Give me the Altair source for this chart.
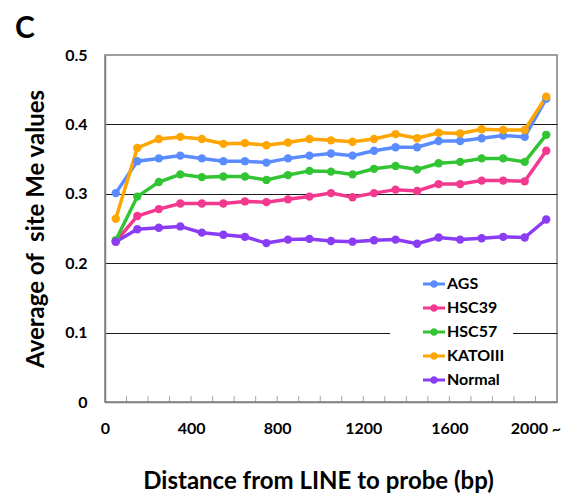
import altair as alt
import pandas as pd

distance = [50, 150, 250, 350, 450, 550, 650, 750, 850, 950, 1050,
            1150, 1250, 1350, 1450, 1550, 1650, 1750, 1850, 1950, 2050]
series_names = ["AGS", "HSC39", "HSC57", "KATOIII", "Normal"]
ags = [0.301, 0.347, 0.351, 0.355, 0.351, 0.347, 0.347, 0.345, 0.351, 0.355, 0.358,
       0.355, 0.362, 0.367, 0.367, 0.376, 0.376, 0.380, 0.384, 0.382, 0.437]
hsc39 = [0.231, 0.268, 0.278, 0.286, 0.286, 0.286, 0.289, 0.288, 0.292, 0.296, 0.301,
         0.295, 0.301, 0.306, 0.304, 0.314, 0.314, 0.319, 0.319, 0.318, 0.362]
hsc57 = [0.233, 0.296, 0.317, 0.328, 0.324, 0.325, 0.325, 0.320, 0.327, 0.333, 0.332,
         0.328, 0.336, 0.340, 0.335, 0.344, 0.346, 0.351, 0.351, 0.346, 0.385]
katoiii = [0.264, 0.366, 0.379, 0.382, 0.379, 0.372, 0.373, 0.370, 0.374, 0.379, 0.377,
           0.375, 0.379, 0.386, 0.380, 0.388, 0.387, 0.393, 0.392, 0.392, 0.440]
normal = [0.231, 0.249, 0.251, 0.253, 0.244, 0.241, 0.238, 0.229, 0.234, 0.235, 0.232,
          0.231, 0.233, 0.234, 0.228, 0.237, 0.234, 0.236, 0.238, 0.237, 0.263]
colors = ["#5B8CFF", "#F2398F", "#33C433", "#FFA500", "#8A3CF5"]

x_label_values = [0, 400, 800, 1200, 1600, 2000]
minor_tick_values = [100, 200, 300, 400, 500, 600, 700, 800, 900, 1000,
                     1100, 1200, 1300, 1400, 1500, 1600, 1700, 1800, 1900, 2000]
y_values = [0, 0.1, 0.2, 0.3, 0.4, 0.5]

rows = []
for name, vals in zip(series_names, [ags, hsc39, hsc57, katoiii, normal]):
    for d, v in zip(distance, vals):
        rows.append({"distance": d, "series": name, "line_series": name, "value": v})
df = pd.DataFrame(rows)
ticks_df = pd.DataFrame({"distance": minor_tick_values})

FONT = "Lato"
x_scale = alt.Scale(domain=[0, 2100], nice=False, zero=False)
y_scale = alt.Scale(domain=[0, 0.5], nice=False)

x_enc = alt.X(
    "distance:Q", scale=x_scale,
    axis=alt.Axis(
        values=x_label_values,
        labelExpr="datum.value == 2000 ? '2000 ~' : format(datum.value, 'd')",
        title="Distance from LINE to probe (bp)",
        grid=False, ticks=False,
        labelFont=FONT, labelFontSize=16, labelFontWeight="bold", labelColor="black",
        labelPadding=18, labelFlush=False,
        titleFont=FONT, titleFontSize=24, titleFontWeight="bold", titleColor="black",
        titlePadding=33, titleX=213, titleAlign="center",
        domainColor="#808080", domainWidth=1.5,
    ),
)
y_enc = alt.Y(
    "value:Q", scale=y_scale,
    axis=alt.Axis(
        values=y_values,
        labelExpr="datum.value == 0 ? '0' : format(datum.value, '.1f')",
        title="Average of \u00a0site Me values",
        grid=True,
        gridColor={"condition": {"test": "datum.value >= 0.5 || datum.value <= 0",
                                 "value": "transparent"},
                   "value": "#1a1a1a"},
        gridWidth=1,
        ticks=False,
        labelFont=FONT, labelFontSize=16, labelFontWeight="bold", labelColor="black",
        labelPadding=18,
        titleFont=FONT, titleFontSize=24, titleFontWeight="bold", titleColor="black",
        titlePadding=16,
        domainColor="#808080", domainWidth=1.5,
    ),
)

legend_symbol = ("M-2,-0.27H2V0.27H-2Z "
                 "M-0.7,0A0.7,0.7 0 1,1 0.7,0A0.7,0.7 0 1,1 -0.7,0Z")
legend_pad = " " * 36

lines = alt.Chart(df).mark_line(strokeWidth=3.5).encode(
    x=x_enc, y=y_enc,
    stroke=alt.Stroke("line_series:N", sort=series_names,
                      scale=alt.Scale(range=colors), legend=None),
)
points = alt.Chart(df).mark_point(filled=True, size=70, opacity=1).encode(
    x=x_enc, y=y_enc,
    fill=alt.Fill(
        "series:N", scale=alt.Scale(domain=series_names, range=colors),
        legend=alt.Legend(
            title=None, orient="none", legendX=285, legendY=213,
            fillColor="white", padding=8,
            symbolType=legend_symbol, symbolSize=121, symbolStrokeWidth=0,
            symbolOffset=28, labelOffset=5,
            labelExpr="datum.label + '" + legend_pad + "'",
            labelLimit=300,
            labelFont=FONT, labelFontSize=16, labelFontWeight="bold", labelColor="black",
            rowPadding=8,
        ),
    ),
)
minor_ticks = alt.Chart(ticks_df).mark_tick(
    orient="vertical", size=6, thickness=1, color="#808080", yOffset=-3
).encode(x=alt.X("distance:Q", scale=x_scale), y=alt.datum(0))

chart = alt.layer(minor_ticks, lines, points).properties(
    width=452, height=347,
    autosize=alt.AutoSizeParams(type="none"),
    padding={"left": 97, "top": 47, "right": 20, "bottom": 91},
    title=alt.TitleParams("C", anchor="start", frame="group", dx=-90, offset=3,
                          font=FONT, fontSize=30, fontWeight="bold", color="black"),
).configure_view(stroke="#808080", strokeWidth=1.5)

chart.save("out.html", embed_options={"renderer": "svg", "actions": False})
